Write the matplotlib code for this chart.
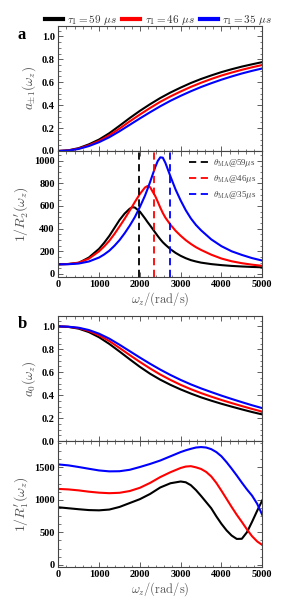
import numpy as np
import matplotlib
matplotlib.use('Agg')
import matplotlib.pyplot as plt
from matplotlib.ticker import MultipleLocator, AutoMinorLocator

plt.rcParams['mathtext.fontset'] = 'cm'
plt.rcParams['font.family'] = 'serif'
plt.rcParams['font.serif'] = ['Liberation Serif', 'DejaVu Serif']

taus = [59, 46, 35]
colors = ['black', 'red', 'blue']

# panel a, top: a_{+-1}
w_a1 = [0, 250, 500, 750, 1000, 1250, 1500, 1750, 2000, 2250, 2500,
        2750, 3000, 3250, 3500, 3750, 4000, 4250, 4500, 4750, 5000]
a1_59 = [0, 0.006, 0.025, 0.058, 0.10, 0.155, 0.22, 0.287, 0.35, 0.408, 0.462,
         0.51, 0.553, 0.593, 0.628, 0.659, 0.688, 0.713, 0.736, 0.756, 0.775]
a1_46 = [0, 0.005, 0.021, 0.05, 0.088, 0.137, 0.195, 0.258, 0.318, 0.375, 0.429,
         0.476, 0.519, 0.559, 0.595, 0.628, 0.658, 0.684, 0.708, 0.73, 0.75]
a1_35 = [0, 0.004, 0.018, 0.043, 0.077, 0.12, 0.172, 0.228, 0.284, 0.338, 0.39,
         0.438, 0.481, 0.521, 0.558, 0.591, 0.622, 0.65, 0.676, 0.699, 0.72]

# panel a, bottom: 1/R2'
w_a2 = [0, 250, 500, 750, 1000, 1125, 1250, 1375, 1500, 1625, 1750, 1812, 1875,
        2000, 2125, 2187, 2250, 2375, 2437, 2500, 2562, 2625, 2750, 2875, 3000,
        3125, 3250, 3375, 3500, 3750, 4000, 4250, 4500, 4750, 5000]
r2_59 = [85, 88, 98, 145, 222, 275, 335, 405, 475, 532, 575, 588, 586,
         550, 490, 458, 428, 366, 335, 306, 280, 258, 218, 186, 160,
         139, 122, 110, 100, 87, 78, 71, 66, 62, 59]
r2_46 = [85, 88, 100, 135, 200, 243, 292, 352, 418, 486, 558, 595, 633,
         705, 762, 775, 765, 688, 638, 585, 538, 497, 434, 381, 337,
         298, 265, 236, 212, 170, 136, 112, 95, 82, 72]
r2_35 = [85, 86, 92, 110, 145, 172, 205, 248, 298, 358, 425, 462, 500,
         590, 690, 748, 810, 940, 995, 1028, 1025, 980, 860, 745, 648,
         562, 490, 432, 385, 305, 245, 200, 168, 140, 118]
theta_ma = [1978, 2346, 2745]

# panel b, top: a_0
w_b1 = w_a1
a0_59 = [1.0, 0.995, 0.98, 0.95, 0.905, 0.847, 0.781, 0.713, 0.647, 0.587, 0.535,
         0.49, 0.45, 0.414, 0.381, 0.352, 0.325, 0.30, 0.276, 0.253, 0.232]
a0_46 = [1.0, 0.996, 0.985, 0.96, 0.922, 0.872, 0.812, 0.75, 0.69, 0.633, 0.58,
         0.533, 0.49, 0.452, 0.418, 0.387, 0.358, 0.331, 0.305, 0.28, 0.256]
a0_35 = [1.0, 0.997, 0.988, 0.968, 0.936, 0.893, 0.84, 0.784, 0.728, 0.674, 0.623,
         0.576, 0.533, 0.494, 0.459, 0.427, 0.396, 0.367, 0.339, 0.312, 0.287]

# panel b, bottom: 1/R1'
w_b2 = [0, 250, 500, 750, 1000, 1250, 1500, 1750, 2000, 2250, 2500, 2750, 3000,
        3125, 3250, 3375, 3500, 3625, 3750, 3875, 4000, 4125, 4250, 4375, 4500,
        4625, 4750, 4875, 5000]
r1_59 = [885, 870, 855, 842, 838, 850, 890, 950, 1010, 1090, 1190, 1255, 1282,
         1270, 1225, 1150, 1060, 965, 870, 745, 630, 530, 450, 398, 400,
         500, 660, 830, 990]
r1_46 = [1168, 1160, 1145, 1125, 1110, 1102, 1108, 1135, 1185, 1260, 1350, 1425, 1490,
         1512, 1518, 1500, 1475, 1430, 1360, 1260, 1140, 1015, 890, 770, 660,
         545, 440, 360, 305]
r1_35 = [1545, 1530, 1505, 1478, 1452, 1438, 1440, 1462, 1505, 1552, 1605, 1670, 1735,
         1762, 1785, 1805, 1812, 1805, 1780, 1735, 1670, 1580, 1480, 1375, 1265,
         1160, 1065, 940, 770]

label_grey = '#555555'
tick_font = {'family': 'serif', 'weight': 'bold', 'size': 7.5}

fig = plt.figure(figsize=(2.99, 5.98), dpi=100)
left, width = 0.195, 0.682
ax_a1 = fig.add_axes([left, 0.7475, width, 0.209])
ax_a2 = fig.add_axes([left, 0.5373, width, 0.2102])
ax_b1 = fig.add_axes([left, 0.2625, width, 0.209])
ax_b2 = fig.add_axes([left, 0.0523, width, 0.2102])

lines = []
for ys, c, t in zip([a1_59, a1_46, a1_35], colors, taus):
    ln, = ax_a1.plot(w_a1, ys, color=c, lw=1.5, label=r'$\tau_1 = %d\ \mu s$' % t)
    lines.append(ln)
for ys, c in zip([r2_59, r2_46, r2_35], colors):
    ax_a2.plot(w_a2, ys, color=c, lw=1.5)
for wm, c, t in zip(theta_ma, colors, taus):
    ax_a2.axvline(wm, color=c, lw=1.3, ls=(0, (4, 2.5)),
                  label=r'$\theta_{\rm MA}$@%d$\mu$s' % t)
for ys, c in zip([a0_59, a0_46, a0_35], colors):
    ax_b1.plot(w_b1, ys, color=c, lw=1.5)
for ys, c in zip([r1_59, r1_46, r1_35], colors):
    ax_b2.plot(w_b2, ys, color=c, lw=1.5)

for ax in [ax_a1, ax_a2, ax_b1, ax_b2]:
    ax.set_xlim(0, 5000)
    ax.xaxis.set_major_locator(MultipleLocator(1000))
    ax.xaxis.set_minor_locator(AutoMinorLocator(5))
    ax.yaxis.set_minor_locator(AutoMinorLocator(4))
    ax.tick_params(which='both', direction='in', top=True, right=True,
                   colors='#444444', labelcolor='black', pad=2.5)
    ax.tick_params(which='major', length=3.5, width=0.6)
    ax.tick_params(which='minor', length=1.8, width=0.5)
    for s in ax.spines.values():
        s.set_color('#444444')
        s.set_linewidth(0.8)

for ax in [ax_a1, ax_b1]:
    ax.set_ylim(0, 1.09)
    ax.set_yticks([0, 0.2, 0.4, 0.6, 0.8, 1.0])
    ax.set_yticklabels(['0.0', '0.2', '0.4', '0.6', '0.8', '1.0'], fontdict=tick_font)
    ax.yaxis.set_minor_locator(AutoMinorLocator(4))
    ax.tick_params(labelbottom=False)

ax_a2.set_ylim(-24, 1084)
ax_a2.set_yticks([0, 200, 400, 600, 800, 1000])
ax_b2.set_ylim(-30, 1905)
ax_b2.set_yticks([0, 500, 1000, 1500])
for ax in [ax_a2, ax_b2]:
    ax.set_yticklabels([str(int(v)) for v in ax.get_yticks()], fontdict=tick_font)
    ax.yaxis.set_minor_locator(AutoMinorLocator(4))
    ax.set_xticks([0, 1000, 2000, 3000, 4000, 5000])
    ax.set_xticklabels(['0', '1000', '2000', '3000', '4000', '5000'], fontdict=tick_font)
    ax.xaxis.set_minor_locator(AutoMinorLocator(5))
    ax.set_xlabel(r'$\omega_z/(\mathrm{rad/s})$', fontsize=9, color=label_grey, labelpad=1)

ax_a1.set_ylabel(r'$a_{\pm1}(\omega_z)$', fontsize=9.5, color=label_grey, labelpad=3)
ax_a2.set_ylabel(r"$1/R_2'(\omega_z)$", fontsize=10, color=label_grey, labelpad=2)
ax_b1.set_ylabel(r'$a_0(\omega_z)$', fontsize=9.5, color=label_grey, labelpad=3)
ax_b2.set_ylabel(r"$1/R_1'(\omega_z)$", fontsize=10, color=label_grey, labelpad=2)

ax_a2.legend(loc='upper right', frameon=False, fontsize=6.5, handlelength=2.2,
             handletextpad=0.4, labelspacing=0.45, borderaxespad=0.3,
             labelcolor='#444444')

fig.legend(handles=[plt.Line2D([], [], color=c, lw=3) for c in colors],
           labels=[l.get_label() for l in lines], loc='upper center',
           bbox_to_anchor=(0.53, 0.995), ncol=3, frameon=False, fontsize=8,
           handlelength=1.6, handletextpad=0.4, columnspacing=0.5,
           labelcolor='#333333')

fig.text(0.06, 0.941, 'a', fontsize=12, fontweight='bold', family='serif', va='center')
fig.text(0.06, 0.458, 'b', fontsize=12, fontweight='bold', family='serif', va='center')

fig.savefig('out.png', dpi=100)
